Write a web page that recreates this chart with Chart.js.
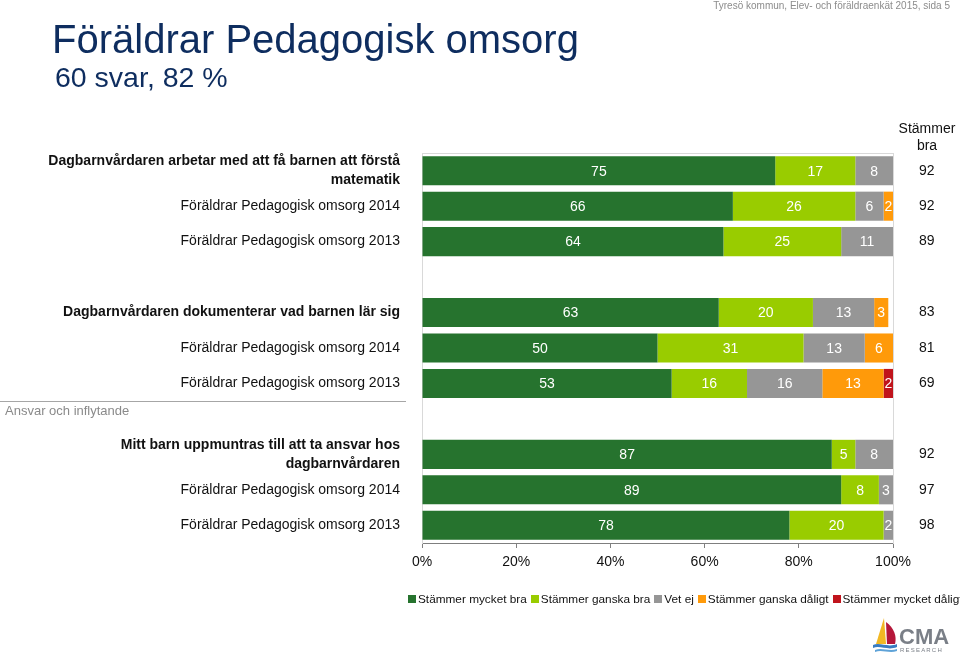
<!DOCTYPE html>
<html><head><meta charset="utf-8">
<script src="https://cdn.jsdelivr.net/npm/chart.js@4.4.0/dist/chart.umd.min.js"></script>
<style>
html,body{margin:0;padding:0;background:#fff;width:960px;height:656px;overflow:hidden;font-family:"Liberation Sans",Arial,sans-serif;}
#wrap{position:relative;width:960px;height:656px;}
#c{position:absolute;left:0;top:0;width:960px;height:656px;}
.t{position:absolute;white-space:nowrap;}
#legend{position:absolute;left:408px;top:592px;font-size:11.8px;color:#111;white-space:nowrap;display:flex;align-items:center;}
#legend span.sw{display:inline-block;width:8px;height:8px;margin-right:2px;}
#legend span.it{display:inline-flex;align-items:center;margin-right:4px;}
</style></head><body>
<div id="wrap">
<canvas id="c" width="960" height="656"></canvas>
<div class="t" style="right:10px;top:0px;font-size:10px;color:#8c8c8c">Tyresö kommun, Elev- och föräldraenkät 2015, sida 5</div>
<div class="t" style="left:52px;top:17px;font-size:40px;color:#0e2d5f">Föräldrar Pedagogisk omsorg</div>
<div class="t" style="left:55px;top:61px;font-size:28.5px;color:#0e2d5f">60 svar, 82 %</div>
<div class="t" style="left:887px;width:80px;top:120px;font-size:14px;line-height:17px;color:#111;text-align:center">Stämmer<br>bra</div>
<div id="legend"></div>
<svg style="position:absolute;left:870px;top:614px" width="90" height="42" viewBox="0 0 90 42">
  <path d="M14 4 L6 30 L16 30 Z" fill="#f2b824"/>
  <path d="M16 8 C24 14 27 22 25 30 L17 30 Z" fill="#b5173a"/>
  <path d="M3 31 C10 28 18 34 27 30 L27 33 C18 37 10 31 3 34 Z" fill="#3a7cc0"/>
  <path d="M5 36 C12 33 19 38 27 35 L27 37 C19 40 12 35 5 38 Z" fill="#5fa3d8"/>
  <text x="29" y="30" font-family="Liberation Sans, Arial" font-weight="bold" font-size="22" fill="#7a7f87">CMA</text>
  <text x="30" y="38" font-family="Liberation Sans, Arial" font-size="6" letter-spacing="1.2" fill="#7a7f87">RESEARCH</text>
</svg>
</div>
<script>
const categories = [
  ['Dagbarnvårdaren arbetar med att få barnen att förstå', 'matematik'],
  'Föräldrar Pedagogisk omsorg 2014',
  'Föräldrar Pedagogisk omsorg 2013',
  '',
  'Dagbarnvårdaren dokumenterar vad barnen lär sig',
  'Föräldrar Pedagogisk omsorg 2014',
  'Föräldrar Pedagogisk omsorg 2013',
  '',
  ['Mitt barn uppmuntras till att ta ansvar hos', 'dagbarnvårdaren'],
  'Föräldrar Pedagogisk omsorg 2014',
  'Föräldrar Pedagogisk omsorg 2013'
];
const headingRows = [0, 4, 8];
const seriesNames = ['Stämmer mycket bra', 'Stämmer ganska bra', 'Vet ej', 'Stämmer ganska dåligt', 'Stämmer mycket dåligt'];
const seriesColors = ['#26732e', '#99cc00', '#969696', '#ff9a0a', '#c0141c'];
const mycketBra    = [75, 66, 64, null, 63, 50, 53, null, 87, 89, 78];
const ganskaBra    = [17, 26, 25, null, 20, 31, 16, null, 5, 8, 20];
const vetEj        = [8, 6, 11, null, 13, 13, 16, null, 8, 3, 2];
const ganskaDaligt = [0, 2, 0, null, 3, 6, 13, null, 0, 0, 0];
const mycketDaligt = [0, 0, 0, null, 0, 0, 2, null, 0, 0, 0];
const stammerBra   = ['92', '92', '89', '', '83', '81', '69', '', '92', '97', '98'];
const xTickValues  = [0, 20, 40, 60, 80, 100];
const groupLabel = 'Ansvar och inflytande';
const groupAfterRow = 6;

const FONT = '"Liberation Sans", Arial, sans-serif';
const seriesValues = [mycketBra, ganskaBra, vetEj, ganskaDaligt, mycketDaligt];

const valueLabels = {
  id: 'valueLabels',
  afterDatasetsDraw(chart) {
    const ctx = chart.ctx, a = chart.chartArea;
    ctx.save();
    ctx.beginPath();
    ctx.rect(a.left, a.top, a.right - a.left, a.bottom - a.top);
    ctx.clip();
    ctx.font = '14px ' + FONT;
    ctx.fillStyle = '#ffffff';
    ctx.textAlign = 'center';
    ctx.textBaseline = 'middle';
    chart.data.datasets.forEach((ds, di) => {
      const meta = chart.getDatasetMeta(di);
      meta.data.forEach((bar, i) => {
        const v = ds.data[i];
        if (!v) return;
        const x = (bar.x + bar.base) / 2;
        ctx.fillText(String(v), x, bar.y + 1);
      });
    });
    ctx.restore();
  }
};

const decorations = {
  id: 'decorations',
  afterDraw(chart) {
    const ctx = chart.ctx, a = chart.chartArea, y = chart.scales.y;
    ctx.save();
    ctx.strokeStyle = '#d9d9d9';
    ctx.lineWidth = 1;
    ctx.beginPath();
    ctx.moveTo(a.left, a.top + 0.5);
    ctx.lineTo(a.right, a.top + 0.5);
    ctx.stroke();
    const ly = Math.round((y.getPixelForValue(groupAfterRow) + y.getPixelForValue(groupAfterRow + 1)) / 2) + 0.5;
    ctx.strokeStyle = '#a6a6a6';
    ctx.beginPath();
    ctx.moveTo(0, ly);
    ctx.lineTo(406, ly);
    ctx.stroke();
    ctx.font = '13px ' + FONT;
    ctx.fillStyle = '#8a8a8a';
    ctx.textAlign = 'left';
    ctx.textBaseline = 'middle';
    ctx.fillText(groupLabel, 5, ly + 10);
    ctx.restore();
  }
};

new Chart(document.getElementById('c'), {
  type: 'bar',
  data: {
    labels: categories,
    datasets: seriesNames.map((n, i) => ({
      label: n,
      data: seriesValues[i],
      backgroundColor: seriesColors[i],
      borderWidth: 0,
      barPercentage: 0.82,
      categoryPercentage: 1
    }))
  },
  options: {
    indexAxis: 'y',
    responsive: false,
    maintainAspectRatio: false,
    animation: false,
    layout: { padding: { left: 0, right: 0, top: 153, bottom: 83 } },
    plugins: { legend: { display: false }, tooltip: { enabled: false } },
    scales: {
      x: {
        stacked: true, min: 0, max: 100,
        afterBuildTicks(s) { s.ticks = xTickValues.map(v => ({ value: v })); },
        afterFit(s) { s.height = 30; },
        grid: { drawOnChartArea: false, drawTicks: true, tickLength: 5, color: '#7f7f7f' },
        border: { display: true, color: '#7f7f7f' },
        ticks: { padding: 6, color: '#111', font: { family: FONT, size: 14 }, callback: v => v + '%', maxRotation: 0 }
      },
      y: {
        stacked: true,
        afterFit(s) { s.width = 422; },
        grid: { display: false, drawTicks: false },
        border: { display: true, color: '#d9d9d9' },
        ticks: {
          autoSkip: false, padding: 22, color: '#111',
          font: (c) => headingRows.includes(c.index)
            ? { family: FONT, size: 14, weight: 'bold', lineHeight: 1.35 }
            : { family: FONT, size: 14 }
        }
      },
      y2: {
        type: 'category', labels: stammerBra, position: 'right', offset: true,
        afterFit(s) { s.width = 67; },
        grid: { display: false, drawTicks: false },
        border: { display: true, color: '#d9d9d9' },
        ticks: { autoSkip: false, padding: 26, color: '#111', font: { family: FONT, size: 14 } }
      }
    }
  },
  plugins: [valueLabels, decorations]
});

const lg = document.getElementById('legend');
seriesNames.forEach((n, i) => {
  const it = document.createElement('span');
  it.className = 'it';
  it.innerHTML = '<span class="sw" style="background:' + seriesColors[i] + '"></span>' + n;
  lg.appendChild(it);
});
</script>
</body></html>
